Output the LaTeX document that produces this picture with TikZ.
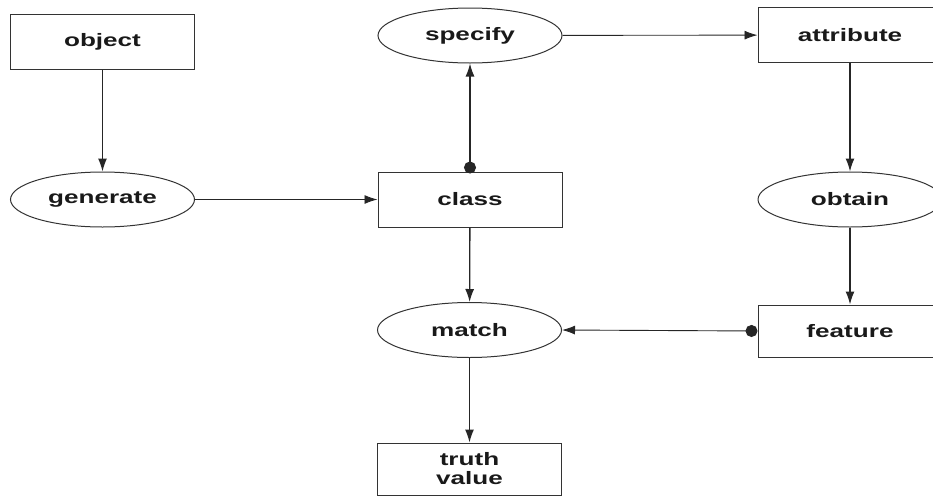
\documentclass[tikz,border=0pt]{standalone}
\usepackage{fontspec}
\usetikzlibrary{arrows.meta,shapes.geometric}
\newfontfamily\labfont{Liberation Sans Bold}[FakeStretch=1.45]
\begin{document}
\begin{tikzpicture}[x=1pt,y=-1pt,
  every node/.style={font=\labfont\fontsize{18}{20}\selectfont, text=black!90, align=center, inner sep=0pt},
  box/.style={draw=black!80, line width=1pt, rectangle, minimum width=184pt, minimum height=55pt},
  proc/.style={draw=black!80, line width=1pt, ellipse, minimum width=184pt, minimum height=55pt},
  flow/.style={draw=black!85, line width=1.3pt, -{Latex[length=13pt,width=9pt]}},
  dotflow/.style={draw=black!85, line width=1.3pt, {Circle[length=12pt]}-{Latex[length=13pt,width=9pt]}}]
\useasboundingbox (0,0) rectangle (933,498);
\clip (0,0) rectangle (933,498);

% left column
\node[box]  (object)   at (102.5,42)  {object};
\node[proc] (generate) at (102.5,199.5) {generate};

% middle column
\node[proc] (specify) at (470,35.5) {specify};
\node[box]  (class)   at (470,199.5) {class};
\node[proc] (match)   at (469.5,330) {match};
\node[box, minimum height=52pt] (truth) at (469.5,469) {truth\\[-1pt]value};

% right column
\node[box]  (attribute) at (850,35) {attribute};
\node[proc] (obtain)    at (850,199.5) {obtain};
\node[box, minimum height=52pt] (feature) at (850,331) {feature};

% connectors
\draw[flow] (object) -- (generate);
\draw[flow, line width=0.9pt] (generate) -- (class);
\draw[dotflow, shorten <=-2pt] (class.north) -- (specify.south);
\draw[flow, line width=0.9pt] (specify) -- (attribute);
\draw[flow] (attribute) -- (obtain);
\draw[flow] (obtain) -- (feature);
\draw[flow] (class) -- (match);
\draw[dotflow, line width=0.9pt] (feature.west) -- (match.east);
\draw[flow] (match) -- (truth);
\end{tikzpicture}
\end{document}
